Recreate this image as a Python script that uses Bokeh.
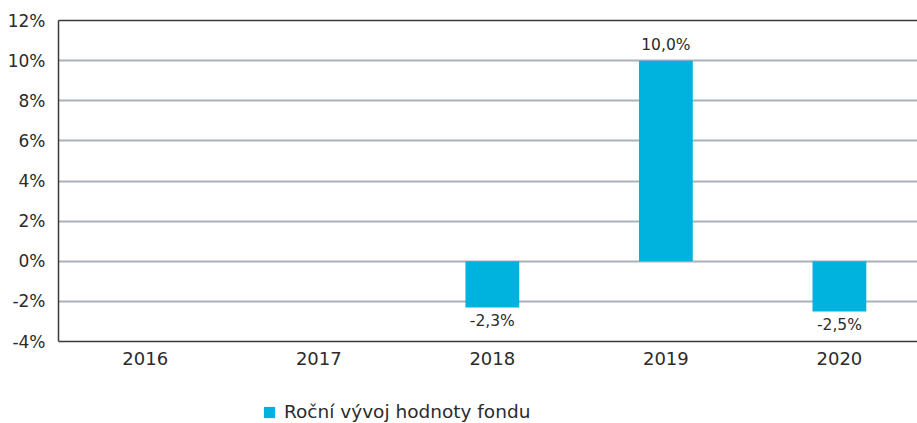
import math
from bokeh.plotting import figure
from bokeh.models import (Range1d, FixedTicker, PrintfTickFormatter, LinearAxis,
                          ColumnDataSource, Legend, LegendItem)
from bokeh.core.properties import value
from bokeh.embed import file_html
from bokeh.resources import INLINE

years = ["2016", "2017", "2018", "2019", "2020"]
returns = [float("nan"), float("nan"), -2.3, 10.0, -2.5]
series_name = "Roční vývoj hodnoty fondu"
y_ticks = [-4, -2, 0, 2, 4, 6, 8, 10, 12]

FONT = "DejaVu Sans"
TEXT = "#2b2b2b"
BAR = "#00b2de"

Y_MIN, Y_MAX = -4, 12
FRAME_H = 403                      # frame runs to the bottom of the page
PX_PER_UNIT = 321 / (Y_MAX - Y_MIN)
y_start = Y_MAX - FRAME_H / PX_PER_UNIT

xs = [i + 0.5 for i in range(len(years))]
src = ColumnDataSource(dict(x=xs, top=returns))

p = figure(frame_width=859, frame_height=FRAME_H, output_backend="svg",
           toolbar_location=None,
           x_range=Range1d(0, 4.95), y_range=Range1d(y_start, Y_MAX),
           min_border_left=58, min_border_right=0, min_border_top=20,
           min_border_bottom=0)
p.outline_line_color = None
p.background_fill_color = "white"

bars = p.vbar(x="x", top="top", bottom=0, width=0.31, source=src,
              fill_color=BAR, line_color=None)

# value labels
pos = dict(x=[], y=[], t=[])
neg = dict(x=[], y=[], t=[])
for x, v in zip(xs, returns):
    if v is None or (isinstance(v, float) and math.isnan(v)):
        continue
    label = f"{v:.1f}".replace(".", ",") + "%"
    d = pos if v >= 0 else neg
    d["x"].append(x); d["y"].append(v); d["t"].append(label)
p.text(x="x", y="y", text="t", source=ColumnDataSource(pos), text_align="center",
       text_baseline="bottom", y_offset=-7, text_font=value(FONT),
       text_font_size="15.5px", text_color=TEXT)
p.text(x="x", y="y", text="t", source=ColumnDataSource(neg), text_align="center",
       text_baseline="top", y_offset=5, text_font=value(FONT),
       text_font_size="15.5px", text_color=TEXT)

# axes
p.xaxis.ticker = FixedTicker(ticks=xs)
p.xaxis.major_label_overrides = {x: y for x, y in zip(xs, years)}
p.xaxis.fixed_location = Y_MIN
p.yaxis.ticker = FixedTicker(ticks=y_ticks)
p.yaxis.formatter = PrintfTickFormatter(format="%d%%")
p.yaxis.bounds = (Y_MIN, Y_MAX)
for ax in (p.xaxis, p.yaxis):
    ax.axis_line_color = "#3a3a3a"
    ax.axis_line_width = 1.5
    ax.major_tick_line_color = None
    ax.minor_tick_line_color = None
    ax.major_label_text_font = FONT
    ax.major_label_text_color = TEXT
p.xaxis.major_label_text_font_size = "18px"
p.yaxis.major_label_text_font_size = "17px"
p.xaxis.major_label_standoff = 4
p.yaxis.major_label_standoff = 7

top_axis = LinearAxis(ticker=FixedTicker(ticks=[]), axis_line_color="#3a3a3a",
                      axis_line_width=1.5, major_tick_line_color=None,
                      minor_tick_line_color=None, major_label_text_font_size="0px")
p.add_layout(top_axis, "above")

p.xgrid.grid_line_color = None
p.ygrid.ticker = FixedTicker(ticks=y_ticks[1:-1])
p.ygrid.grid_line_color = "#a9b2ba"
p.ygrid.grid_line_width = 2

legend = Legend(items=[LegendItem(label=series_name, renderers=[bars])],
                location=(204, 1), orientation="horizontal",
                glyph_width=14, glyph_height=14, label_standoff=8,
                label_text_font=FONT, label_text_font_size="18.5px",
                label_text_color=TEXT, border_line_color=None,
                background_fill_alpha=0, padding=0, margin=0,
                label_height=20)
p.add_layout(legend, "center")

open("out.html", "w").write(file_html(p, INLINE))
